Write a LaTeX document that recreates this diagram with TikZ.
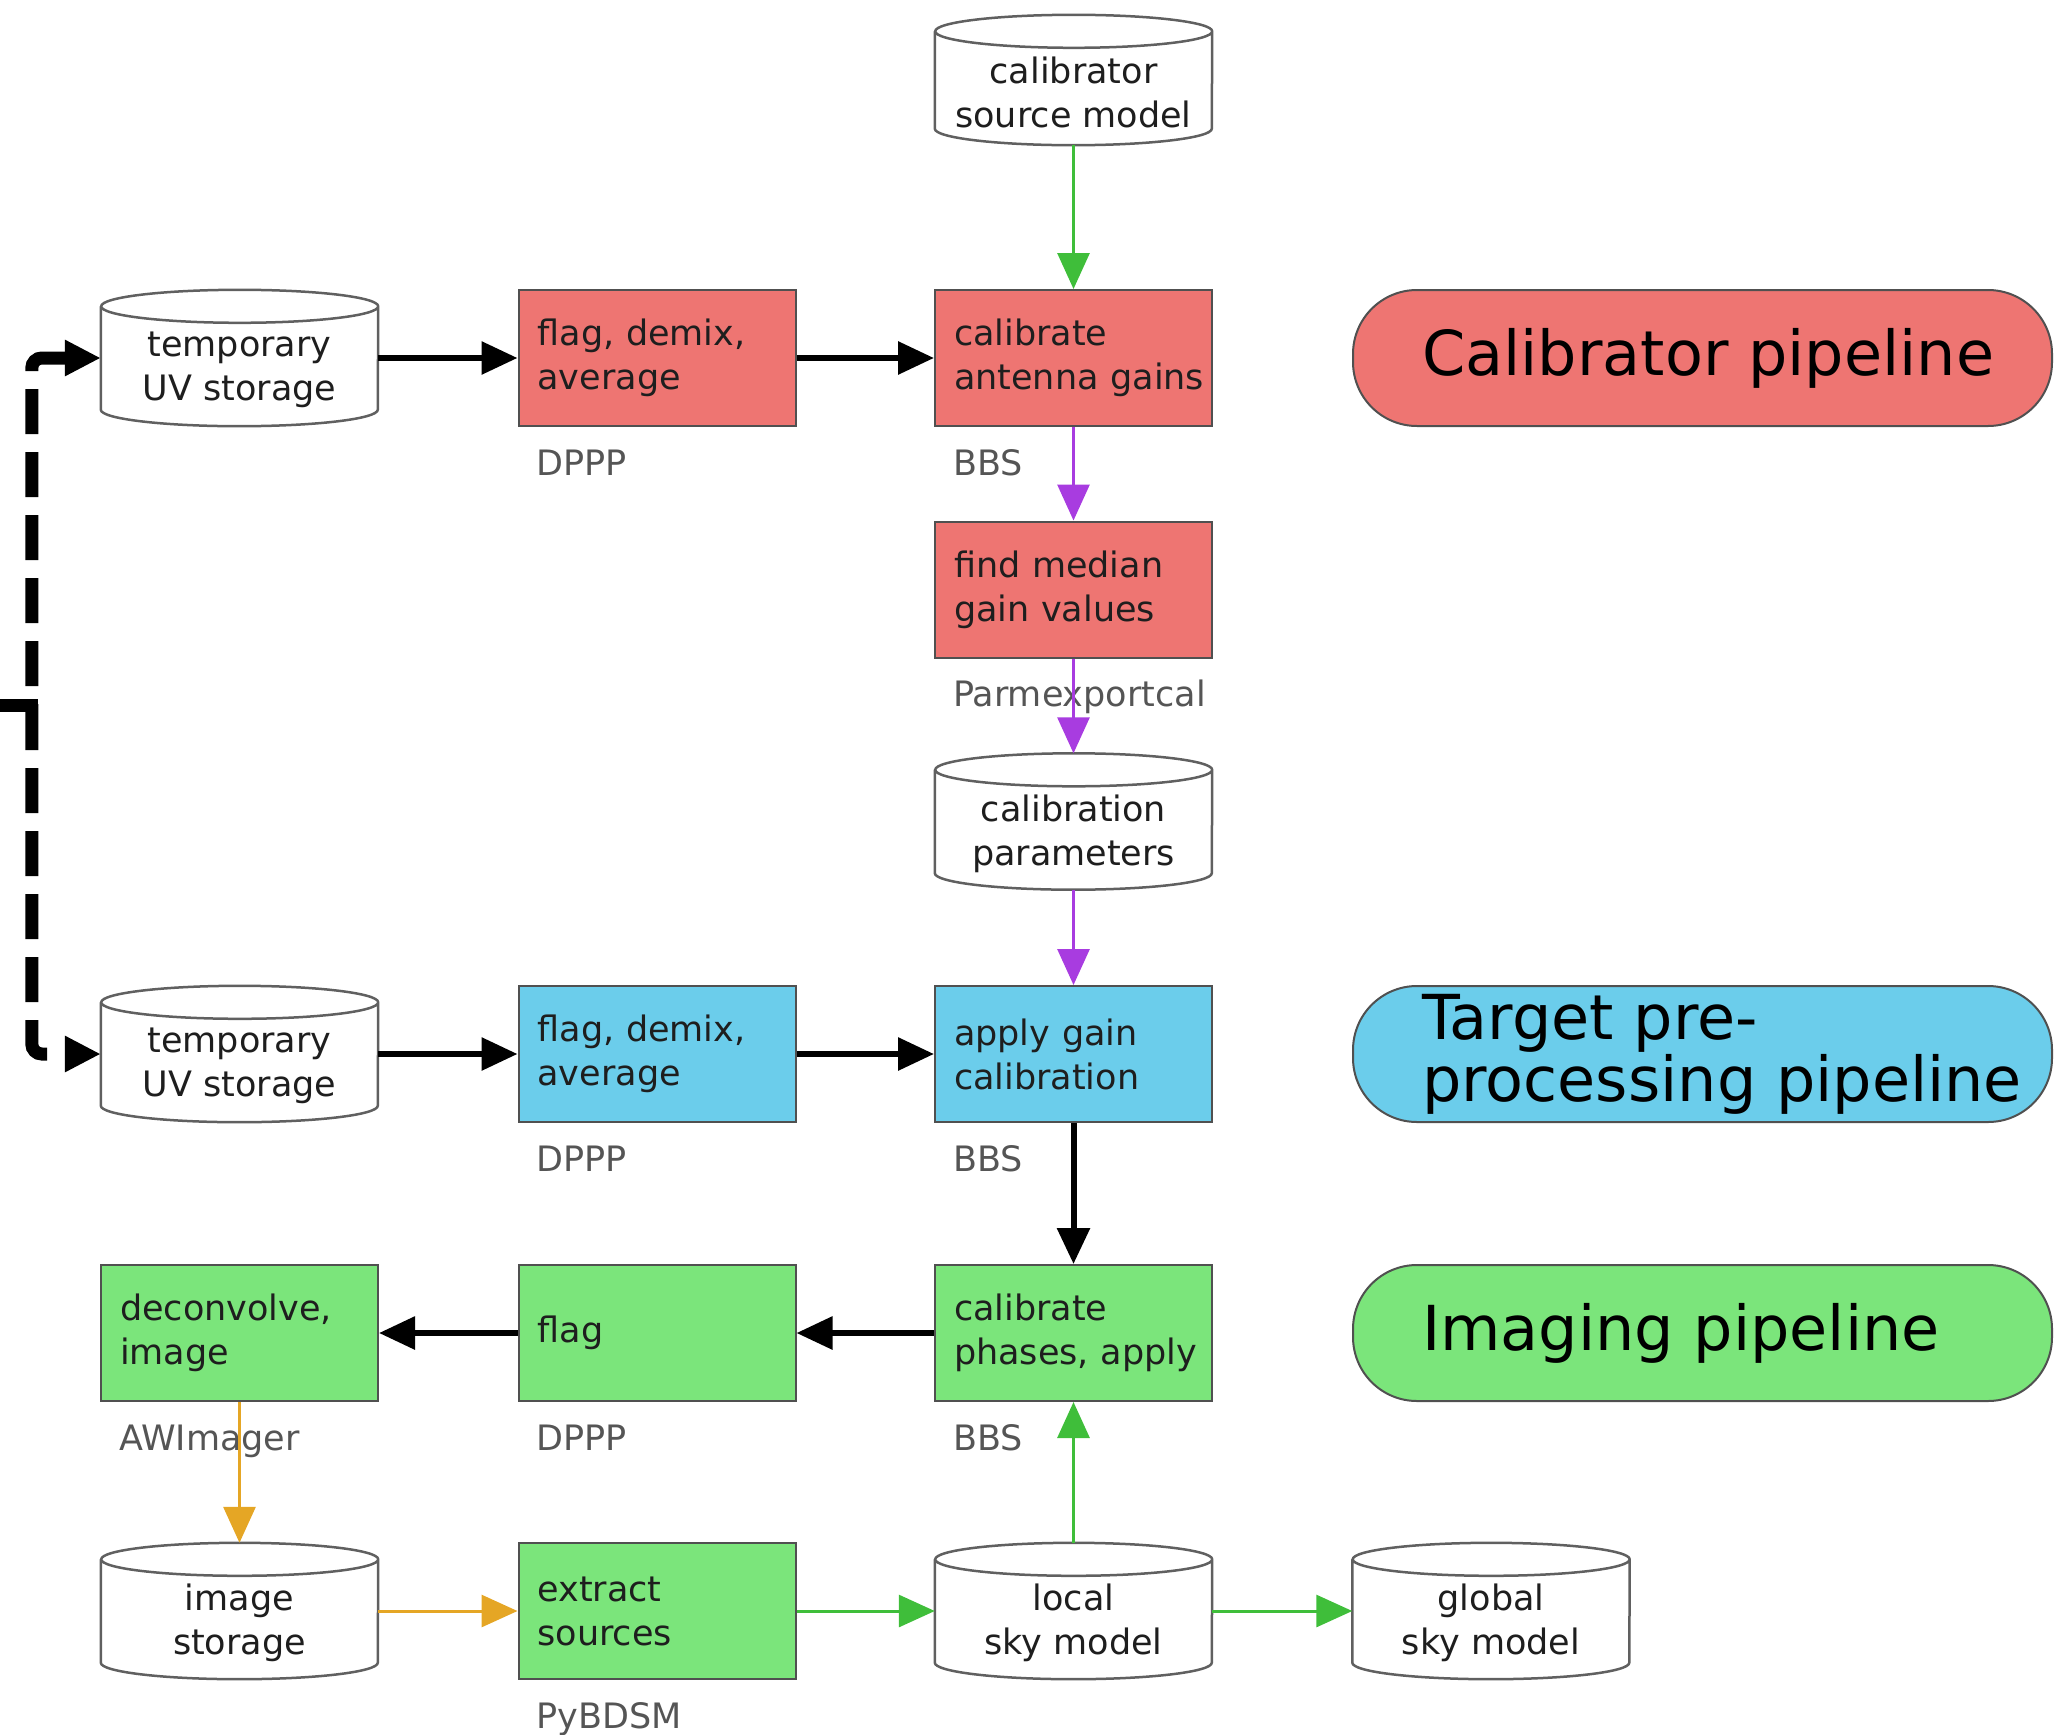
\documentclass[tikz,border=0pt]{standalone}
\usepackage{fontspec}
\setmainfont{DejaVu Sans}
\usetikzlibrary{arrows.meta}
\definecolor{calred}{HTML}{EE7572}
\definecolor{tgtblue}{HTML}{6BCDEB}
\definecolor{imggreen}{HTML}{7BE57B}
\definecolor{flowgreen}{HTML}{3FBE3A}
\definecolor{flowpurple}{HTML}{A83CE0}
\definecolor{floworange}{HTML}{E5A625}
\definecolor{edge}{HTML}{505050}
\definecolor{cyledge}{HTML}{606060}
\definecolor{txt}{HTML}{1E1E1E}
\definecolor{tooltxt}{HTML}{555555}
\newcommand{\boxfont}{\fontsize{35bp}{44bp}\selectfont}
\newcommand{\pillfont}{\fontsize{62bp}{62bp}\selectfont}
\tikzset{
  proc/.style={draw=edge, line width=2bp, minimum width=277bp, minimum height=136bp,
    text width=239bp, inner xsep=19bp, align=left, font=\boxfont, text=txt},
  cylbody/.style={rectangle, minimum width=277bp, minimum height=136bp, inner sep=0pt},
  cylline/.style={draw=cyledge, line width=2.5bp, fill=white},
  cyltext/.style={align=center, font=\boxfont, text=txt, inner sep=0pt},
  tool/.style={font=\boxfont, text=tooltxt, anchor=base west, inner sep=0pt},
  pill/.style={draw=edge, line width=2bp, rounded corners=64bp,
    minimum width=699bp, minimum height=136bp},
  pilltext/.style={font=\pillfont, text=black, align=left, anchor=west, inner sep=0pt},
  tip/.style={-{Triangle[length=36bp,width=32bp]}},
  blackflow/.style={tip, line width=6bp, black},
  greenflow/.style={tip, line width=3bp, flowgreen},
  purpleflow/.style={tip, line width=3bp, flowpurple},
  orangeflow/.style={tip, line width=3bp, floworange},
  loopline/.style={line width=13bp, black},
  loopflow/.style={loopline, dash pattern=on 45bp off 18bp,
    rounded corners=10bp, -{Triangle[length=36bp,width=34bp]}},
}
% data store: named body, drum outline, text sitting in the drum's belly
% #1 name, #2 position, #3 text, #4 height
\newcommand{\drum}[4]{%
  \node[cylbody, minimum height=#4] (#1) at (#2) {};
  \path[cylline] ([yshift=-16.5bp]#1.north west) -- ([yshift=16.5bp]#1.south west)
    arc[start angle=180, end angle=360, x radius=138.5bp, y radius=16.5bp]
    -- ([yshift=-16.5bp]#1.north east)
    arc[start angle=0, end angle=360, x radius=138.5bp, y radius=16.5bp];
  \node[cyltext] (#1-t) at ([yshift=-12bp]#1.center) {#3};%
}
\begin{document}
\begin{tikzpicture}[x=1bp,y=-1bp]
\useasboundingbox (0,0) rectangle (2057,1735);

% calibrator branch
\drum{csm}{1073.5,80}{calibrator\\source model}{130bp}
\drum{uv1}{239.5,358}{temporary\\UV storage}{136bp}
\node[proc, fill=calred] (fd1) at (657,358) {flag, demix,\\average};
\node[proc, fill=calred] (cag) at (1073.5,358) {calibrate\\\mbox{antenna gains}};
\node[proc, fill=calred] (fmg) at (1073.5,589.5) {find median\\gain values};
\drum{cpar}{1073.5,821.5}{calibration\\parameters}{136bp}

% target pre-processing branch
\drum{uv2}{239.5,1054}{temporary\\UV storage}{136bp}
\node[proc, fill=tgtblue] (fd2) at (657,1054) {flag, demix,\\average};
\node[proc, fill=tgtblue] (agc) at (1073.5,1054) {apply gain\\calibration};

% imaging branch
\node[proc, fill=imggreen] (dci) at (239.5,1333) {deconvolve,\\image};
\node[proc, fill=imggreen] (fl3) at (657,1333) {flag};
\node[proc, fill=imggreen] (cpa) at (1073.5,1333) {calibrate\\\mbox{phases, apply}};
\drum{ims}{239.5,1611}{image\\storage}{136bp}
\node[proc, fill=imggreen] (exs) at (657,1611) {extract\\sources};
\drum{lsm}{1073.5,1611}{local\\sky model}{136bp}
\drum{gsm}{1491,1611}{global\\sky model}{136bp}

% tool names under the processing steps
\node[tool] (t1) at ([xshift=19bp,yshift=-48bp]fd1.south west) {DPPP};
\node[tool] (t2) at ([xshift=19bp,yshift=-48bp]cag.south west) {BBS};
\node[tool] (t3) at ([xshift=19bp,yshift=-48bp]fmg.south west) {Parmexportcal};
\node[tool] (t4) at ([xshift=19bp,yshift=-48bp]fd2.south west) {DPPP};
\node[tool] (t5) at ([xshift=19bp,yshift=-48bp]agc.south west) {BBS};
\node[tool] (t6) at ([xshift=19bp,yshift=-48bp]dci.south west) {AWImager};
\node[tool] (t7) at ([xshift=19bp,yshift=-48bp]fl3.south west) {DPPP};
\node[tool] (t8) at ([xshift=19bp,yshift=-48bp]cpa.south west) {BBS};
\node[tool] (t9) at ([xshift=19bp,yshift=-48bp]exs.south west) {PyBDSM};

% pipeline legend
\node[pill, fill=calred] (pcal) at (1702.5,358) {};
\node[pilltext] (pcalt) at ([xshift=70bp]pcal.west) {Calibrator pipeline};
\node[pill, fill=tgtblue] (ptgt) at (1702.5,1054) {};
\node[pilltext] (ptgtt) at ([xshift=70bp]ptgt.west) {Target pre-\\processing pipeline};
\node[pill, fill=imggreen] (pimg) at (1702.5,1333) {};
\node[pilltext] (pimgt) at ([xshift=70bp]pimg.west) {Imaging pipeline};

% data flow
\draw[greenflow] (csm.south) -- (cag.north);
\draw[blackflow] (uv1.east) -- (fd1.west);
\draw[blackflow] (fd1.east) -- (cag.west);
\draw[purpleflow] (cag.south) -- (fmg.north);
\draw[purpleflow] (fmg.south) -- (cpar.north);
\draw[purpleflow] (cpar.south) -- (agc.north);
\draw[blackflow] (uv2.east) -- (fd2.west);
\draw[blackflow] (fd2.east) -- (agc.west);
\draw[blackflow] (agc.south) -- (cpa.north);
\draw[blackflow] (cpa.west) -- (fl3.east);
\draw[blackflow] (fl3.west) -- (dci.east);
\draw[orangeflow] (dci.south) -- (ims.north);
\draw[orangeflow] (ims.east) -- (exs.west);
\draw[greenflow] (exs.east) -- (lsm.west);
\draw[greenflow] (lsm.east) -- (gsm.west);
\draw[greenflow] (lsm.north) -- (cpa.south);

% incoming observation feed, split into both temporary stores
\coordinate (feed) at (0,705);
\coordinate (split) at ([xshift=-69bp]uv1.west |- feed);
\draw[loopline] (feed) -- ([xshift=6.5bp]split);
\draw[loopflow, dash phase=44bp] (split) |- (uv1.west);
\draw[loopflow] (split) |- (uv2.west);
\end{tikzpicture}
\end{document}
